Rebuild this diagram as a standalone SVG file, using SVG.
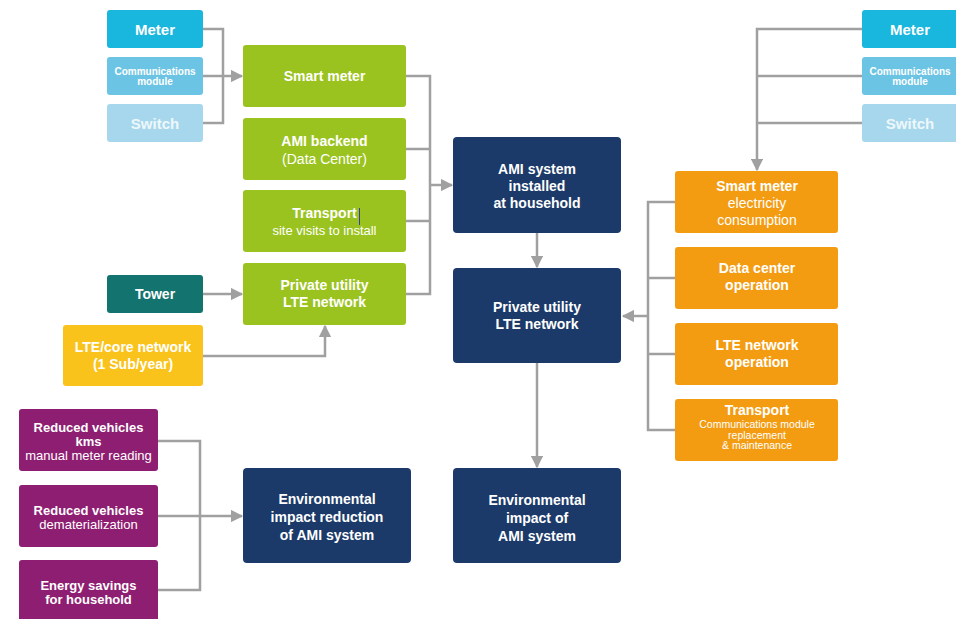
<svg xmlns="http://www.w3.org/2000/svg" width="956" height="619" viewBox="0 0 956 619">
<defs>
<marker id="ah" viewBox="0 0 10 10" refX="9" refY="5" markerWidth="5" markerHeight="5" orient="auto" markerUnits="strokeWidth"><path d="M0,0 L10,5 L0,10 z" fill="#a0a0a0"/></marker>
<style>
text{font-family:"Liberation Sans",Arial,sans-serif;fill:#fff;text-anchor:middle;font-weight:bold}
.n{font-weight:normal}
.c{fill:none;stroke:#a0a0a0;stroke-width:2.5}
.a{marker-end:url(#ah)}
.t15{font-size:15px}
.t14{font-size:14px}
.t13{font-size:13px}
.t9{font-size:10px}
.s{font-size:10.5px;font-weight:normal}
.blue1{fill:#19b6dd}
.blue2{fill:#6cc4e4}
.blue3{fill:#a7d7ec}
.green{fill:#9bc320}
.navy{fill:#1b3a69}
.orange{fill:#f39c12}
.teal{fill:#13736f}
.yellow{fill:#f9c31b}
.purple{fill:#8e1e71}
</style>
</defs>
<rect width="956" height="619" fill="#fff"/>

<g id="connectors">
<path class="c" d="M203,29 H223 V123 H203"/>
<path class="c a" d="M203,76 H242"/>
<path class="c" d="M406,76 H430 V294 H406 M406,149 H430 M406,221 H430"/>
<path class="c a" d="M430,185 H452"/>
<path class="c a" d="M537,233 V267"/>
<path class="c a" d="M537,363 V467"/>
<path class="c a" d="M203,294 H242"/>
<path class="c a" d="M203,356 H325 V326"/>
<path class="c a" d="M862,29 H757 V170"/>
<path class="c" d="M862,76 H757 M862,123 H757"/>
<path class="c" d="M675,202 H648 V430 H675 M675,278 H648 M675,354 H648"/>
<path class="c a" d="M648,316 H623"/>
<path class="c" d="M158,441 H200 V590 H158"/>
<path class="c a" d="M158,516 H242"/>
</g>

<g id="meter-l"><rect class="blue1" x="107" y="10" width="96" height="38" rx="3"/><text class="t15" x="155" y="34.5">Meter</text></g>
<g id="comm-l"><rect class="blue2" x="107" y="57" width="96" height="38" rx="3"/><text class="t9" x="155" y="75">Communications</text><text class="t9" x="155" y="85">module</text></g>
<g id="switch-l"><rect class="blue3" x="107" y="104" width="96" height="38" rx="3"/><text class="t15" x="155" y="128.5" style="fill:#eef7fb">Switch</text></g>

<g id="smart-meter"><rect class="green" x="243" y="45" width="163" height="62" rx="3"/><text class="t14" x="324.5" y="81">Smart meter</text></g>
<g id="ami-backend"><rect class="green" x="243" y="118" width="163" height="62" rx="3"/><text class="t14" x="324.5" y="146">AMI backend</text><text class="t14 n" x="324.5" y="164">(Data Center)</text></g>
<g id="transport-l"><rect class="green" x="243" y="190" width="163" height="62" rx="3"/><text class="t14" x="324.5" y="218">Transport</text><text class="t13 n" x="324.5" y="235">site visits to install</text><line x1="359.5" y1="208" x2="359.5" y2="225" stroke="#3b3bb8" stroke-width="1"/></g>
<g id="lte-green"><rect class="green" x="243" y="263" width="163" height="62" rx="3"/><text class="t14" x="324.5" y="290">Private utility</text><text class="t14" x="324.5" y="307">LTE network</text></g>

<g id="tower"><rect class="teal" x="107" y="275" width="96" height="38" rx="3"/><text class="t14" x="155" y="299">Tower</text></g>
<g id="lte-core"><rect class="yellow" x="63" y="325" width="140" height="61" rx="3"/><text class="t14" x="133" y="352">LTE/core network</text><text class="t14" x="133" y="369">(1 Sub/year)</text></g>

<g id="ami-system"><rect class="navy" x="453" y="137" width="168" height="96" rx="4"/><text class="t14" x="537" y="174">AMI system</text><text class="t14" x="537" y="191">installed</text><text class="t14" x="537" y="208">at household</text></g>
<g id="lte-navy"><rect class="navy" x="453" y="268" width="168" height="95" rx="4"/><text class="t14" x="537" y="312">Private utility</text><text class="t14" x="537" y="329">LTE network</text></g>
<g id="env-impact"><rect class="navy" x="453" y="468" width="168" height="95" rx="4"/><text class="t14" x="537" y="505">Environmental</text><text class="t14" x="537" y="523">impact of</text><text class="t14" x="537" y="541">AMI system</text></g>

<g id="meter-r"><rect class="blue1" x="862" y="10" width="100" height="38" rx="3"/><text class="t15" x="910" y="34.5">Meter</text></g>
<g id="comm-r"><rect class="blue2" x="862" y="57" width="100" height="38" rx="3"/><text class="t9" x="910" y="75">Communications</text><text class="t9" x="910" y="85">module</text></g>
<g id="switch-r"><rect class="blue3" x="862" y="104" width="100" height="38" rx="3"/><text class="t15" x="910" y="128.5" style="fill:#eef7fb">Switch</text></g>

<g id="sm-elec"><rect class="orange" x="675" y="171" width="163" height="62" rx="3"/><text class="t14" x="757" y="191">Smart meter</text><text class="t14 n" x="757" y="208">electricity</text><text class="t14 n" x="757" y="225">consumption</text></g>
<g id="dc-op"><rect class="orange" x="675" y="247" width="163" height="62" rx="3"/><text class="t14" x="757" y="273">Data center</text><text class="t14" x="757" y="290">operation</text></g>
<g id="lte-op"><rect class="orange" x="675" y="323" width="163" height="62" rx="3"/><text class="t14" x="757" y="350">LTE network</text><text class="t14" x="757" y="367">operation</text></g>
<g id="transport-r"><rect class="orange" x="675" y="399" width="163" height="62" rx="3"/><text class="t14" x="757" y="415">Transport</text><text class="s" x="757" y="428">Communications module</text><text class="s" x="757" y="438.5">replacement</text><text class="s" x="757" y="449">&amp; maintenance</text></g>

<g id="red-kms"><rect class="purple" x="19" y="409" width="139" height="62" rx="3"/><text class="t13" x="88.5" y="432">Reduced vehicles</text><text class="t13" x="88.5" y="446">kms</text><text class="t13 n" x="88.5" y="460">manual meter reading</text></g>
<g id="red-demat"><rect class="purple" x="19" y="485" width="139" height="62" rx="3"/><text class="t13" x="88.5" y="515">Reduced vehicles</text><text class="t13 n" x="88.5" y="529">dematerialization</text></g>
<g id="energy"><rect class="purple" x="19" y="560" width="139" height="70" rx="3"/><text class="t13" x="88.5" y="590">Energy savings</text><text class="t13" x="88.5" y="604">for household</text></g>

<g id="env-red"><rect class="navy" x="243" y="468" width="168" height="95" rx="4"/><text class="t14" x="327" y="504">Environmental</text><text class="t14" x="327" y="522">impact reduction</text><text class="t14" x="327" y="540">of AMI system</text></g>
</svg>
